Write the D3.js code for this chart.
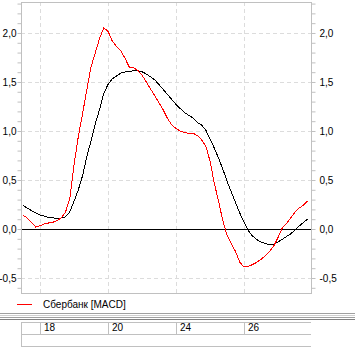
<!DOCTYPE html>
<html>
<head>
<meta charset="utf-8">
<script src="https://cdn.jsdelivr.net/npm/d3@7"></script>
<style>
  body { margin: 0; background: #fff; }
  svg { display: block; font-family: "Liberation Sans", Arial, sans-serif; }
</style>
</head>
<body>
<div id="chart"></div>
<script>
// Datos: MACD Сбербанк, un punto por paso
const macd = [0.14, 0.112, 0.066, 0.02, 0.034, 0.051, 0.061, 0.068, 0.087, 0.112,
  0.173, 0.306, 0.653, 0.939, 1.173, 1.418, 1.653, 1.796, 1.942, 2.051,
  2.017, 1.918, 1.862, 1.821, 1.742, 1.653, 1.645, 1.619, 1.571, 1.5,
  1.429, 1.36, 1.286, 1.214, 1.128, 1.061, 1.026, 1.0, 0.982, 0.977,
  0.977, 0.954, 0.911, 0.847, 0.694, 0.469, 0.286, 0.087, -0.061, -0.148,
  -0.23, -0.337, -0.388, -0.383, -0.362, -0.34, -0.309, -0.276, -0.23, -0.173,
  -0.087, 0.01, 0.056, 0.112, 0.173, 0.214, 0.245, 0.286];

const signal = [0.24, 0.214, 0.187, 0.163, 0.143, 0.131, 0.119, 0.113, 0.11, 0.112,
  0.124, 0.173, 0.281, 0.398, 0.541, 0.735, 0.898, 1.071, 1.219, 1.383,
  1.474, 1.531, 1.561, 1.591, 1.602, 1.609, 1.614, 1.612, 1.604, 1.582,
  1.553, 1.522, 1.474, 1.423, 1.372, 1.321, 1.272, 1.229, 1.187, 1.16,
  1.133, 1.087, 1.061, 1.01, 0.918, 0.827, 0.724, 0.612, 0.49, 0.378,
  0.27, 0.163, 0.071, -0.015, -0.071, -0.107, -0.133, -0.148, -0.158, -0.158,
  -0.133, -0.105, -0.077, -0.049, -0.01, 0.031, 0.066, 0.102];

const dateLabels = ["18", "20", "24", "26"];
const dateIdx = [4, 20, 36, 52];
const gridValues = [-0.5, 0.5, 1.0, 1.5, 2.0];
const legendLabel = "Сбербанк [MACD]";

// Configuración
const svgWidth = 355, svgHeight = 351;
const plot = { left: 21, right: 311, top: 2, bottom: 293 };
const frameColor = "#c0c0c0";

const svg = d3.select("#chart").append("svg")
  .attr("width", svgWidth)
  .attr("height", svgHeight);

const x = d3.scaleLinear()
  .domain([0, macd.length - 1])
  .range([23, 307.75]);

const y = d3.scaleLinear()
  .domain([-0.653, 2.316])
  .range([plot.bottom, plot.top]);

const ru = d3.formatLocale({ decimal: ",", thousands: " ", grouping: [3], currency: ["", ""], minus: "-" });
const fmt = ru.format(".1f");

// Rejilla
svg.append("g")
  .selectAll("line")
  .data(gridValues)
  .enter().append("line")
  .attr("x1", plot.left).attr("x2", plot.right)
  .attr("y1", d => Math.round(y(d)) + 0.5).attr("y2", d => Math.round(y(d)) + 0.5)
  .attr("stroke", "#dcdcdc")
  .attr("stroke-dasharray", "4,3");

svg.append("g")
  .selectAll("line")
  .data(dateIdx)
  .enter().append("line")
  .attr("x1", d => Math.round(x(d)) + 0.5).attr("x2", d => Math.round(x(d)) + 0.5)
  .attr("y1", plot.top).attr("y2", plot.bottom)
  .attr("stroke", "#dcdcdc")
  .attr("stroke-dasharray", "4,3");

// Linea cero
svg.append("line")
  .attr("x1", plot.left).attr("x2", plot.right)
  .attr("y1", Math.round(y(0)) + 0.5).attr("y2", Math.round(y(0)) + 0.5)
  .attr("stroke", "#000");

// Marco
svg.append("rect")
  .attr("x", plot.left + 0.5).attr("y", plot.top + 0.5)
  .attr("width", plot.right - plot.left).attr("height", plot.bottom - plot.top)
  .attr("fill", "none")
  .attr("stroke", frameColor);

// Ejes
const ticks = d3.range(-6, 24).map(d => d / 10);
const isMajor = d => Math.abs(d * 2 - Math.round(d * 2)) < 1e-6;

const yLeft = svg.append("g")
  .attr("transform", `translate(${plot.left + 0.5},0)`)
  .call(d3.axisLeft(y).tickValues(ticks).tickSize(4).tickPadding(1)
    .tickFormat(d => isMajor(d) ? fmt(d) : ""));

const yRight = svg.append("g")
  .attr("transform", `translate(${plot.right + 0.5},0)`)
  .call(d3.axisRight(y).tickValues(ticks).tickSize(4).tickPadding(4)
    .tickFormat(d => isMajor(d) ? fmt(d) : ""));

[yLeft, yRight].forEach(g => {
  g.select(".domain").remove();
  g.selectAll(".tick line").attr("stroke", frameColor);
  g.selectAll(".tick text").attr("fill", "#000").attr("font-size", 10)
    .attr("font-family", "Liberation Sans, Arial, sans-serif");
});

// Curvas
const line = d3.line()
  .x((d, i) => x(i))
  .y(d => y(d));

svg.append("path")
  .datum(signal)
  .attr("fill", "none")
  .attr("stroke", "#000")
  .attr("stroke-width", 1)
  .attr("shape-rendering", "crispEdges")
  .attr("d", line);

svg.append("path")
  .datum(macd)
  .attr("fill", "none")
  .attr("stroke", "#ff0000")
  .attr("stroke-width", 1)
  .attr("shape-rendering", "crispEdges")
  .attr("d", line);

// Leyenda
svg.append("line")
  .attr("x1", 17).attr("x2", 32)
  .attr("y1", 304.5).attr("y2", 304.5)
  .attr("stroke", "#ff0000");

svg.append("text")
  .attr("x", 43).attr("y", 308)
  .attr("font-size", 10)
  .text(legendLabel);

// Separador
[[313, "#a0a0a0"], [315, "#d0d0d0"], [317, "#a0a0a0"], [319, "#808080"]].forEach(([yy, c]) => {
  svg.append("line")
    .attr("x1", 0).attr("x2", svgWidth)
    .attr("y1", yy + 0.5).attr("y2", yy + 0.5)
    .attr("stroke", c);
});

// Tabla de fechas
const rowTop = 322, rowBottom = 334, tableBottom = 346;
[rowTop, rowBottom, tableBottom].forEach(yy => {
  svg.append("line")
    .attr("x1", plot.left).attr("x2", plot.right)
    .attr("y1", yy + 0.5).attr("y2", yy + 0.5)
    .attr("stroke", frameColor);
});

svg.append("line")
  .attr("x1", plot.left + 0.5).attr("x2", plot.left + 0.5)
  .attr("y1", rowTop).attr("y2", tableBottom)
  .attr("stroke", frameColor);

svg.append("g")
  .selectAll("line")
  .data(dateIdx)
  .enter().append("line")
  .attr("x1", d => Math.round(x(d)) + 0.5).attr("x2", d => Math.round(x(d)) + 0.5)
  .attr("y1", rowTop).attr("y2", rowBottom)
  .attr("stroke", frameColor);

svg.append("g")
  .selectAll("text")
  .data(dateIdx)
  .enter().append("text")
  .attr("x", d => Math.round(x(d)) + 4)
  .attr("y", 331)
  .attr("font-size", 10)
  .text((d, i) => dateLabels[i]);
</script>
</body>
</html>
